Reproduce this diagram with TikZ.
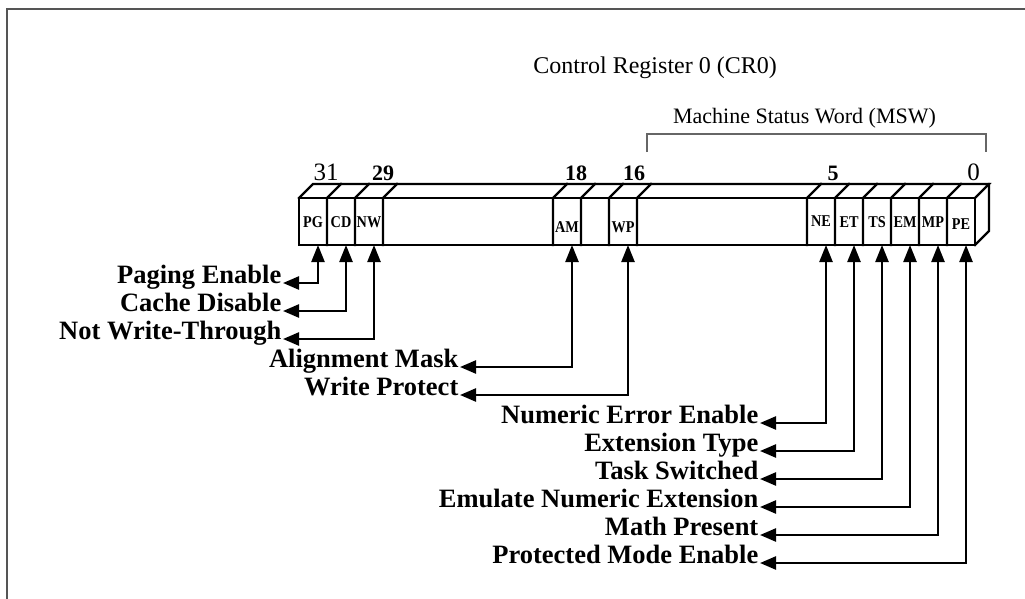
\documentclass[tikz,border=0pt]{standalone}
\usepackage{fontspec}
\setmainfont{Liberation Serif}
\usetikzlibrary{arrows.meta}
\definecolor{framegray}{HTML}{555555}
\definecolor{brackgray}{HTML}{666666}
\begin{document}
\begin{tikzpicture}[x=1pt,y=-1pt,
  reg/.style={line width=2.2pt, line join=miter, line cap=rect},
  cellbox/.style={minimum width=28pt, minimum height=47pt, inner sep=0pt, outer sep=0pt},
  celltext/.style={font=\bfseries\fontsize{15}{16}\selectfont, inner sep=0pt},
  bitlbl/.style={font=\fontsize{25}{27}\selectfont, anchor=base, inner sep=0pt},
  bitlblb/.style={font=\bfseries\fontsize{22}{24}\selectfont, anchor=base, inner sep=0pt},
  flag/.style={font=\bfseries\fontsize{26.5}{28}\selectfont, anchor=base east, inner sep=1.5pt},
  conn/.style={line width=2.4pt, {Triangle[length=16pt,width=13pt]}-{Triangle[length=17pt,width=13pt]}},
]
\useasboundingbox (0,0) rectangle (1025,599);
% frame
\draw[framegray, line width=2pt] (7,599) -- (7,9) -- (1025,9);
% titles
\node[font=\fontsize{24}{26}\selectfont, anchor=base east, inner sep=0pt] (title) at (777,74) {Control Register 0 (CR0)};
\node[font=\fontsize{22}{24}\selectfont, anchor=base, inner sep=0pt] (msw) at (804.5,124) {Machine Status Word (MSW)};
\draw[brackgray, line width=1.4pt] (647,152) -- (647,134) -- (986,134) -- (986,152);
% register body
\draw[reg] (299,198) rectangle (975,245);
\draw[reg] (299,198) -- (313,184) -- (989,184) -- (975,198);
\draw[reg] (989,184) -- (989,231) -- (975,245);
\foreach \bx in {327,355,383,553,581,609,637,807,835,863,891,919,947} {
  \draw[reg] (\bx,245) -- (\bx,198) -- (\bx+14,184);
}
% cells
\foreach \n/\cx/\ty in {PG/313/222, CD/341/222, NW/369/222, AM/567/227, WP/623/227,
    NE/821/221, ET/849/222.5, TS/877/222.5, EM/905/222.5, MP/933/222, PE/961/224} {
  \node[cellbox] (\n) at (\cx,221.5) {};
  \node[celltext] (\n txt) at (\cx,\ty) {\scalebox{0.95}[1.1]{\n}};
}
% bit numbers
\node[bitlbl]  (b31) at (326,180) {31};
\node[bitlblb] (b29) at (383,180) {29};
\node[bitlblb] (b18) at (576,180) {18};
\node[bitlblb] (b16) at (634,180) {16};
\node[bitlblb] (b5)  at (833,180) {5};
\node[bitlbl]  (b0)  at (973.5,180) {0};
% flag labels
\node[flag] (lPG) at (283,283) {Paging Enable};
\node[flag] (lCD) at (283,311) {Cache Disable};
\node[flag] (lNW) at (283,339) {Not Write-Through};
\node[flag] (lAM) at (460,367) {Alignment Mask};
\node[flag] (lWP) at (460,395) {Write Protect};
\node[flag] (lNE) at (760,423) {Numeric Error Enable};
\node[flag] (lET) at (760,451) {Extension Type};
\node[flag] (lTS) at (760,479) {Task Switched};
\node[flag] (lEM) at (760,507) {Emulate Numeric Extension};
\node[flag] (lMP) at (760,535) {Math Present};
\node[flag] (lPE) at (760,563) {Protected Mode Enable};
% connectors
\foreach \n in {PG,CD,NW,AM,WP,NE,ET,TS,EM,MP,PE} {
  \draw[conn] (l\n.base east) -| ([xshift=5pt]\n.south);
}
\end{tikzpicture}
\end{document}
